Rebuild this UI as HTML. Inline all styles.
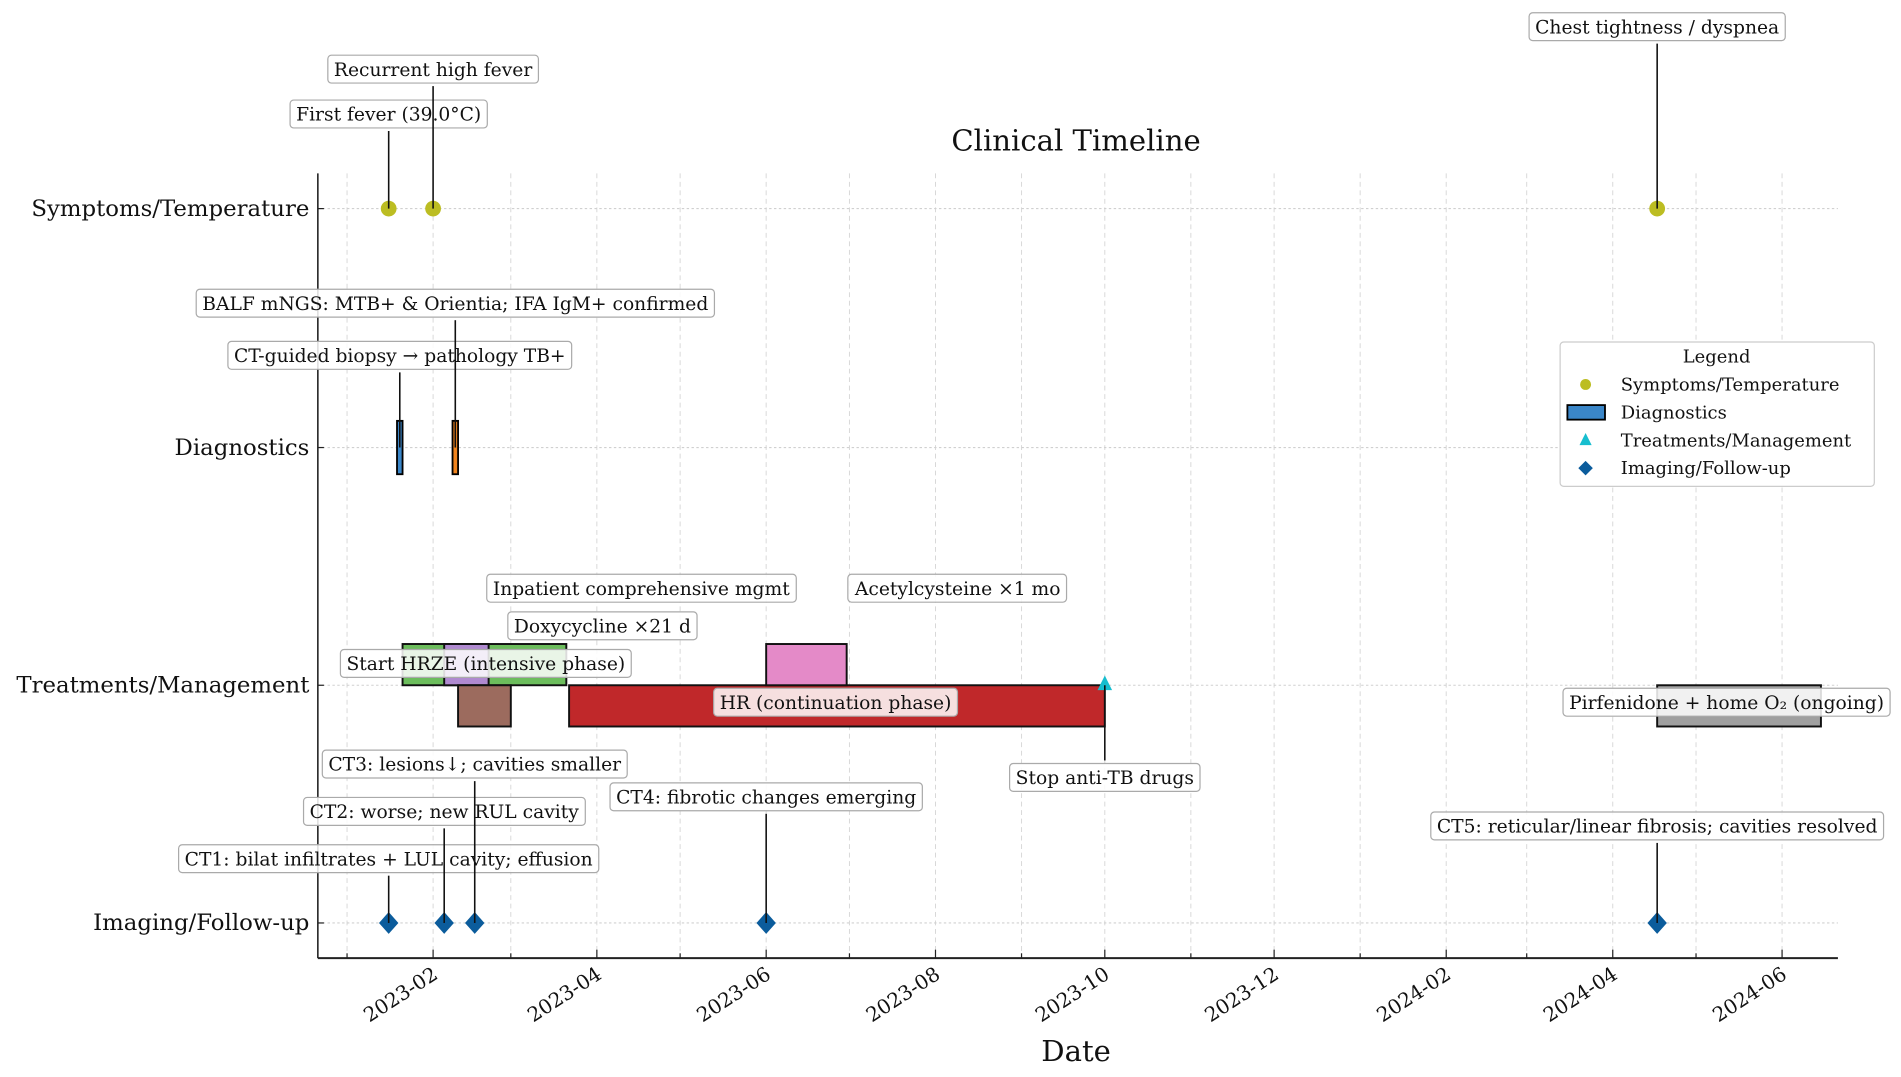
<!DOCTYPE html>
<html><head><meta charset="utf-8"><style>
html,body{margin:0;padding:0;background:#fff;}
svg{display:block;font-family:"DejaVu Serif","Liberation Serif",serif;}
</style></head><body>
<svg id="chart" width="1901" height="1077" viewBox="0 0 1567 888" preserveAspectRatio="none" xmlns="http://www.w3.org/2000/svg"></svg>
<script>
// ---- data ----
const rows = ["Symptoms/Temperature","Diagnostics","Treatments/Management","Imaging/Follow-up"];
const tickLabels = ["2023-02","2023-04","2023-06","2023-08","2023-10","2023-12","2024-02","2024-04","2024-06"];
const symptomDates = ["2023-01-16","2023-02-01","2024-04-17"];
const diagStart = ["2023-01-19","2023-02-08"];
const diagEnd = ["2023-01-21","2023-02-10"];
const diagColors = ["#3a86c8","#f0841e"];
const treatNames = ["HRZE","Doxycycline","Inpatient","HR","Acetylcysteine","Pirfenidone"];
const treatStart = ["2023-01-21","2023-02-05","2023-02-10","2023-03-22","2023-06-01","2024-04-17"];
const treatEnd = ["2023-03-21","2023-02-21","2023-03-01","2023-10-01","2023-06-30","2024-06-15"];
const treatSide = [1,1,-1,-1,1,-1];
const treatColors = ["#6cbd5c","#b08ad0","#9c6b5e","#c0282a","#e48ac8","#a0a0a0"];
const stopDates = ["2023-10-01"];
const imagingDates = ["2023-01-16","2023-02-05","2023-02-16","2023-06-01","2024-04-17"];
const annTexts = ["First fever (39.0°C)","Recurrent high fever","Chest tightness / dyspnea",
 "CT-guided biopsy → pathology TB+","BALF mNGS: MTB+ & Orientia; IFA IgM+ confirmed",
 "Start HRZE (intensive phase)","Doxycycline ×21 d","Inpatient comprehensive mgmt","HR (continuation phase)","Acetylcysteine ×1 mo","Stop anti-TB drugs","Pirfenidone + home O₂ (ongoing)",
 "CT1: bilat infiltrates + LUL cavity; effusion","CT2: worse; new RUL cavity","CT3: lesions↓; cavities smaller","CT4: fibrotic changes emerging","CT5: reticular/linear fibrosis; cavities resolved"];
const annDates = ["2023-01-16","2023-02-01","2024-04-17","2023-01-20","2023-02-09",
 "2023-02-20","2023-04-03","2023-04-17","2023-06-26","2023-08-09","2023-10-01","2024-05-12",
 "2023-01-16","2023-02-05","2023-02-16","2023-06-01","2024-04-17"];
const annRow = [0,0,0,1,1,2,2,2,2,2,2,2,3,3,3,3,3];
const annOffset = [-78,-115,-150,-76,-119,-18,-49,-80,14,-80,76,14,-53,-92,-131,-104,-80];
const annLine = [1,1,1,1,1,0,0,0,0,0,1,0,1,1,1,1,1];

// ---- geometry ----
const L=262,R=1515,T=143,B=790;
const rowY=[172,369,565,761];
const d0=Date.UTC(2023,1,1), px0=357, pxPerDay=2.288;
function x(ds){const p=ds.split('-').map(Number);const t=Date.UTC(p[0],p[1]-1,p[2]||1);return px0+(t-d0)/864e5*pxPerDay;}
const svg=document.getElementById('chart');const NS="http://www.w3.org/2000/svg";
function el(tag,attrs,parent){const e=document.createElementNS(NS,tag);for(const k in attrs)e.setAttribute(k,attrs[k]);(parent||svg).appendChild(e);return e;}

for(let y=2022;y<=2024;y++)for(let m=1;m<=12;m++){
  const ds=y+"-"+String(m).padStart(2,'0')+"-01";const xx=x(ds);
  if(xx<L||xx>R)continue;
  const g=el('line',{x1:xx,x2:xx,y1:T,y2:B,stroke:'#d8d8d8','stroke-width':0.8,'stroke-dasharray':'4,3'});
  
  const tk=el('line',{x1:xx,x2:xx,y1:B,y2:B-(m%2==0?7:4),stroke:'#222','stroke-width':1});
  
}
rows.forEach((r,i)=>{
  const g=el('line',{x1:L,x2:R,y1:rowY[i],y2:rowY[i],stroke:'#d0d0d0','stroke-width':0.9,'stroke-dasharray':'2,2'});
  
  const tk=el('line',{x1:L,x2:L+5,y1:rowY[i],y2:rowY[i],stroke:'#222','stroke-width':1});
  
  const t=el('text',{x:L-7,y:rowY[i]+6,'text-anchor':'end','font-size':18.8,fill:'#111'});t.textContent=r;
  
});
let a=el('line',{x1:L,x2:L,y1:T,y2:B,stroke:'#222','stroke-width':1.3});
a=el('line',{x1:L,x2:R,y1:B,y2:B,stroke:'#222','stroke-width':1.6});
tickLabels.forEach(tl=>{const xx=x(tl+"-01");
  const t=el('text',{x:xx+5,y:B+16,'text-anchor':'end','font-size':16.5,fill:'#111',transform:`rotate(-33 ${xx+5} ${B+16})`});t.textContent=tl;
  });
let t=el('text',{x:887,y:124,'text-anchor':'middle','font-size':24,fill:'#111'});t.textContent="Clinical Timeline";
t=el('text',{x:887,y:875,'text-anchor':'middle','font-size':24,fill:'#111'});t.textContent="Date";

const lineLayer=el('g',{});
diagStart.forEach((s,i)=>{const x1=x(s),x2=x(diagEnd[i]);
  const r=el('rect',{x:x1,y:rowY[1]-22,width:x2-x1,height:44,fill:diagColors[i],stroke:'#000','stroke-width':1.5});
  });
treatStart.forEach((s,i)=>{const x1=x(s),x2=x(treatEnd[i]);const h=34;
  const y=treatSide[i]>0?rowY[2]-h:rowY[2];
  const r=el('rect',{x:x1,y:y,width:x2-x1,height:h,fill:treatColors[i],stroke:'#111','stroke-width':1.6});
  });
symptomDates.forEach(d=>{const c=el('circle',{cx:x(d),cy:rowY[0],r:6.5,fill:'#bcbd22'});
  });
stopDates.forEach(d=>{const xx=x(d),y=rowY[2];const p=el('polygon',{points:`${xx},${y-8} ${xx-6},${y+4} ${xx+6},${y+4}`,fill:'#17becf'});
  });
imagingDates.forEach(d=>{const xx=x(d),y=rowY[3];const p=el('polygon',{points:`${xx},${y-9} ${xx+8},${y} ${xx},${y+9} ${xx-8},${y}`,fill:'#0b5c9c'});
  });

annTexts.forEach((txt,i)=>{const xx=x(annDates[i]);const cy=rowY[annRow[i]]+annOffset[i];
  const g=el('g',{});
  
  if(annLine[i]){const ln=el('line',{x1:xx,x2:xx,y1:cy+(annOffset[i]<0?14:-14),y2:rowY[annRow[i]],stroke:'#111','stroke-width':1.3},lineLayer);
    }
  const tx=el('text',{x:xx,y:cy+5.5,'text-anchor':'middle','font-size':15.4,fill:'#111'},g);tx.textContent=txt;
  const bb=tx.getBBox();
  const bx=el('rect',{x:bb.x-5,y:cy-11.5,width:bb.width+10,height:23,rx:3,fill:'#fff','fill-opacity':0.85,stroke:'#aaa','stroke-width':1});
  g.insertBefore(bx,tx);
});
svg.appendChild(lineLayer);

const lg=el('g',{});
el('rect',{x:1286,y:282,width:259,height:119,rx:3,fill:'#fff',stroke:'#ccc','stroke-width':1},lg);
t=el('text',{x:1415,y:299,'text-anchor':'middle','font-size':14.8,fill:'#111'},lg);t.textContent="Legend";
const legNames=["Symptoms/Temperature","Diagnostics","Treatments/Management","Imaging/Follow-up"];
legNames.forEach((n,i)=>{const y=317+i*23;
  const g=el('g',{},lg);
  if(i==0)el('circle',{cx:1307,cy:y,r:4.5,fill:'#bcbd22'},g);
  if(i==1)el('rect',{x:1292,y:y-6,width:31,height:12,fill:'#3a86c8',stroke:'#000','stroke-width':1.5},g);
  if(i==2)el('polygon',{points:`1307,${y-6} 1302,${y+4} 1312,${y+4}`,fill:'#17becf'},g);
  if(i==3)el('polygon',{points:`1307,${y-6} 1313,${y} 1307,${y+6} 1301,${y}`,fill:'#0b5c9c'},g);
  const tt=el('text',{x:1336,y:y+5,'font-size':14.8,fill:'#111'},g);tt.textContent=n;});
</script>
</body></html>
